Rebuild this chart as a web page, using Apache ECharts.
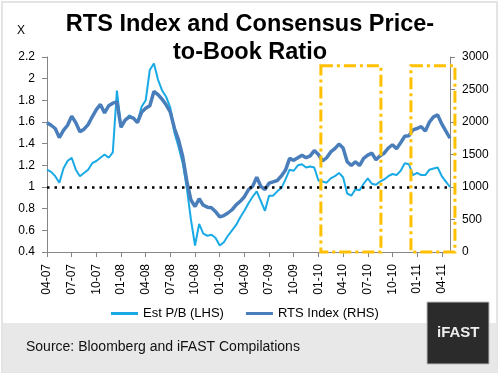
<!DOCTYPE html>
<html>
<head>
<meta charset="utf-8">
<script src="https://cdn.jsdelivr.net/npm/echarts@6/dist/echarts.min.js"></script>
<style>
  html, body { margin: 0; padding: 0; background: #fff; }
  #chart { width: 500px; height: 375px; }
</style>
</head>
<body>
<div id="chart"></div>
<script>
// semi-monthly readings, starting 1 Apr 2007
const startYear = 2007;
const startMonth = 4;

const estPB = [
  1.16, 1.14, 1.10, 1.04, 1.17, 1.24, 1.27, 1.16, 1.10, 1.13,
  1.16, 1.22, 1.24, 1.27, 1.30, 1.27, 1.32, 1.89, 1.55, 1.62,
  1.66, 1.64, 1.60, 1.74, 1.80, 2.08, 2.14, 1.99, 1.89, 1.83,
  1.73, 1.50, 1.37, 1.22, 0.99, 0.70, 0.46, 0.66, 0.57, 0.55,
  0.56, 0.53, 0.46, 0.49, 0.55, 0.60, 0.65, 0.72, 0.78, 0.85,
  0.91, 0.96, 0.87, 0.78, 0.92, 0.92, 0.96, 0.99, 1.07, 1.16,
  1.15, 1.20, 1.21, 1.18, 1.19, 1.18, 1.06, 1.05, 1.04, 1.08,
  1.10, 1.13, 1.09, 0.94, 0.92, 0.98, 0.97, 1.03, 1.08, 1.03,
  1.02, 1.05, 1.07, 1.10, 1.12, 1.11, 1.15, 1.22, 1.21, 1.11,
  1.13, 1.11, 1.11, 1.16, 1.17, 1.18, 1.10, 1.05, 1.00
];

const rtsIndex = [
  1990, 1950, 1900, 1760, 1870, 1950, 2090, 1990, 1850, 1890,
  1960, 2080, 2190, 2270, 2140, 2250, 2290, 2310, 1920, 2030,
  2080, 2060, 1990, 2150, 2210, 2250, 2470, 2420, 2350, 2260,
  2150, 1900, 1720, 1470, 1090, 800, 700, 820, 720, 690,
  680, 620, 540, 560, 600, 650, 725, 780, 850, 960,
  1010, 1150, 1010, 960, 1060, 1080, 1100, 1170, 1260, 1440,
  1410, 1450, 1490, 1450, 1480, 1560, 1500, 1400, 1450, 1540,
  1590, 1660, 1600, 1390, 1330, 1390, 1330, 1440, 1490, 1520,
  1420, 1480, 1520, 1600, 1650, 1590, 1680, 1780, 1790, 1880,
  1900, 1930, 1860, 2000, 2080, 2110, 1970, 1860, 1750
];

// highlighted windows (in point index units): Jan-Aug 2010, Dec 2010 onwards
const highlights = [[66.6, 81.2], [88.5, 99.2]];
const highlightTop = 2.12;

const categories = [];
for (let i = 0; i < rtsIndex.length; i++) {
  const m = startMonth - 1 + Math.floor(i / 2);
  const y = startYear + Math.floor(m / 12);
  const mm = String(m % 12 + 1).padStart(2, '0');
  categories.push(y + '-' + mm + (i % 2 ? '-16' : '-01'));
}

const font = 'Liberation Sans, Arial, sans-serif';
const axisGrey = '#868686';

let myChart = echarts.init(document.getElementById('chart'));
myChart.setOption({
  animation: false,
  backgroundColor: '#fff',
  textStyle: { fontFamily: font },
  title: {
    text: 'RTS Index and Consensus Price-\nto-Book Ratio',
    left: 'center',
    top: 6,
    padding: 5,
    textStyle: { fontSize: 23.5, fontWeight: 'bold', color: '#000', lineHeight: 28, fontFamily: font }
  },
  legend: {
    left: 106,
    top: 302,
    itemWidth: 27,
    itemHeight: 3,
    itemGap: 22,
    textStyle: { fontSize: 13, color: '#000' },
    data: [
      { name: 'Est P/B (LHS)', icon: 'rect' },
      { name: 'RTS Index (RHS)', icon: 'rect' }
    ]
  },
  grid: { left: 47, right: 50, top: 57, bottom: 123 },
  xAxis: {
    type: 'category',
    boundaryGap: false,
    data: categories,
    axisLine: { lineStyle: { color: axisGrey } },
    axisTick: { interval: 5, length: 5, lineStyle: { color: axisGrey } },
    axisLabel: {
      interval: 5,
      rotate: 90,
      margin: 12,
      fontSize: 12,
      color: '#000',
      formatter: function (v) { return v.slice(5, 7) + '-' + v.slice(2, 4); }
    },
    splitLine: { show: false }
  },
  yAxis: [
    {
      type: 'value',
      min: 0.4,
      max: 2.2,
      interval: 0.2,
      name: 'X',
      nameGap: 20,
      nameTextStyle: { fontSize: 12, color: '#000', align: 'right', padding: [0, 22, 0, 0] },
      axisLine: { show: true, lineStyle: { color: axisGrey } },
      axisTick: { show: true, length: 5, lineStyle: { color: axisGrey } },
      axisLabel: { margin: 12, fontSize: 12, color: '#000' },
      splitLine: { show: false }
    },
    {
      type: 'value',
      position: 'right',
      min: 0,
      max: 3000,
      interval: 500,
      axisLine: { show: true, lineStyle: { color: axisGrey } },
      axisTick: { show: true, length: 5, lineStyle: { color: axisGrey } },
      axisLabel: {
        margin: 12, fontSize: 12, color: '#000',
        formatter: function (v) { return String(v); }
      },
      splitLine: { show: false }
    }
  ],
  series: [
    {
      name: 'Est P/B (LHS)',
      type: 'line',
      yAxisIndex: 0,
      data: estPB,
      symbol: 'none',
      itemStyle: { color: '#19aae6' },
      lineStyle: { width: 2, color: '#19aae6' },
      z: 2
    },
    {
      name: 'RTS Index (RHS)',
      type: 'line',
      yAxisIndex: 1,
      data: rtsIndex,
      symbol: 'none',
      itemStyle: { color: '#4a7ebb' },
      lineStyle: { width: 3.5, color: '#4a7ebb' },
      z: 3,
      markLine: {
        silent: true,
        symbol: 'none',
        label: { show: false },
        lineStyle: { color: '#000', width: 2.5, type: [2.5, 5], opacity: 1 },
        data: [{ yAxis: 1000 }]
      }
    }
  ],
  graphic: [
    {
      type: 'rect', id: 'frame', z: -10,
      shape: { x: 2, y: 2, width: 495, height: 370 },
      style: { fill: '#fff', stroke: '#e4e4e4', lineWidth: 2 }
    },
    {
      type: 'rect', id: 'srcbox', z: -5,
      shape: { x: 3, y: 323, width: 494, height: 49 },
      style: { fill: '#e8e8e8' }
    },
    {
      type: 'text', id: 'srctext',
      left: 26, top: 340,
      style: { text: 'Source: Bloomberg and iFAST Compilations', fill: '#111', font: '14px ' + font }
    },
    {
      type: 'rect', id: 'logo', z: 10,
      shape: { x: 427, y: 302, width: 62, height: 62 },
      style: { fill: '#2b2b2b', stroke: '#bdbdbd', lineWidth: 1 }
    },
    {
      type: 'text', id: 'logotext', z: 11,
      left: 437, top: 325,
      style: { text: 'iFAST', fill: '#eeeeee', font: 'bold 15px ' + font }
    }
  ]
});

// dash-dot highlight boxes placed through the chart's own scales
const xFirst = myChart.convertToPixel({ xAxisIndex: 0 }, 0);
const xLast = myChart.convertToPixel({ xAxisIndex: 0 }, categories.length - 1);
const step = (xLast - xFirst) / (categories.length - 1);
const yTop = myChart.convertToPixel({ yAxisIndex: 0 }, highlightTop);
const yBottom = myChart.convertToPixel({ yAxisIndex: 0 }, 0.4);
myChart.setOption({
  graphic: highlights.map(function (h, k) {
    const x0 = xFirst + h[0] * step;
    const x1 = xFirst + h[1] * step;
    return {
      type: 'rect', id: 'hl' + k, z: 20,
      shape: { x: x0, y: yTop, width: x1 - x0, height: yBottom - yTop },
      style: { fill: 'none', stroke: '#ffc000', lineWidth: 3, lineDash: [12, 4, 3, 4] }
    };
  })
});
</script>
</body>
</html>
